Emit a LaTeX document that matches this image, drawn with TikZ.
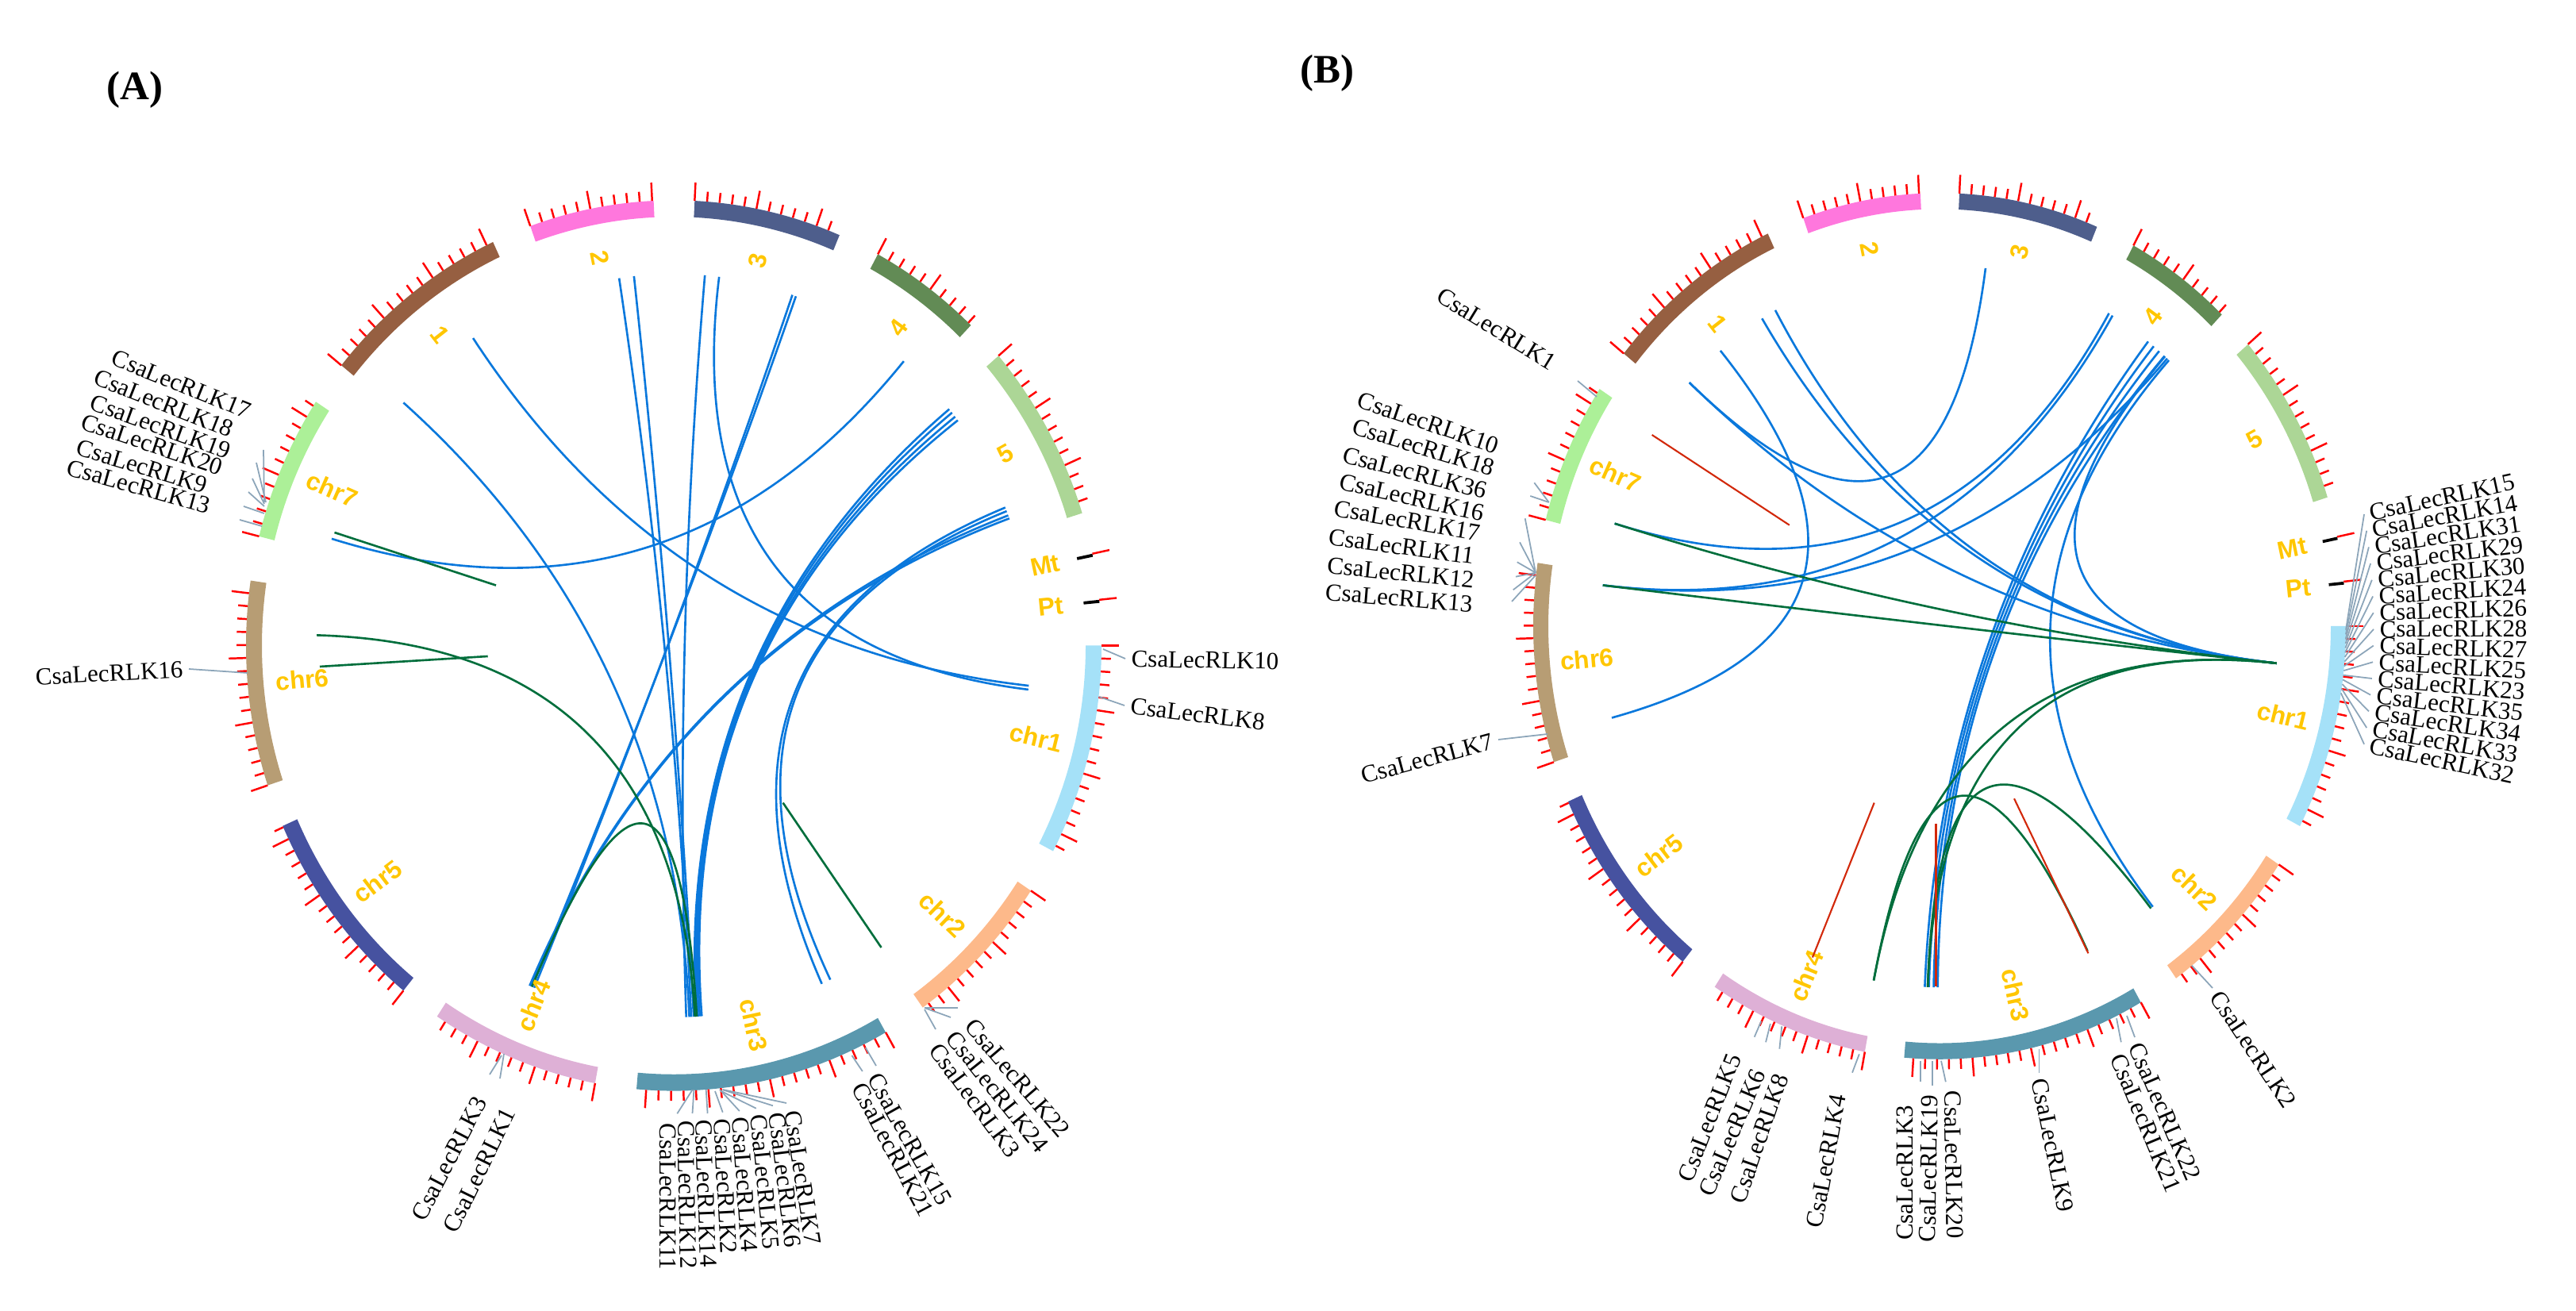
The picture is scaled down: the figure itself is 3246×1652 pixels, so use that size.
\documentclass[tikz,border=0pt]{standalone}
\usepackage{fontspec}
\setmainfont{Liberation Serif}
\newfontfamily\lsans{Liberation Sans}
\usetikzlibrary{calc}
\definecolor{c1}{RGB}{150,95,65}
\definecolor{c2}{RGB}{255,119,221}
\definecolor{c3}{RGB}{78,94,140}
\definecolor{c4}{RGB}{98,139,85}
\definecolor{c5}{RGB}{172,214,150}
\definecolor{k1}{RGB}{165,225,248}
\definecolor{k2}{RGB}{253,185,138}
\definecolor{k3}{RGB}{90,152,174}
\definecolor{k4}{RGB}{222,176,214}
\definecolor{k5}{RGB}{70,82,160}
\definecolor{k6}{RGB}{183,157,116}
\definecolor{k7}{RGB}{172,240,152}
\definecolor{gold}{RGB}{255,198,0}
\definecolor{lblue}{RGB}{10,120,220}
\definecolor{lgreen}{RGB}{0,110,60}
\definecolor{lred}{RGB}{210,40,10}
\definecolor{conn}{RGB}{140,165,185}
\tikzset{
 tickmark/.style={red, line width=0.7pt},
 blink/.style={lblue, line width=0.75pt},
 glink/.style={lgreen, line width=0.75pt},
 rlink/.style={lred, line width=0.6pt},
 chrlab/.style={text=gold, font=\lsans\bfseries\fontsize{9}{9}\selectfont, inner sep=0pt},
 gene/.style={font=\fontsize{8.8}{9}\selectfont, inner sep=2pt},
 gconn/.style={conn, line width=0.5pt},
 panel/.style={font=\bfseries\fontsize{14.5}{15}\selectfont}
}
\newcommand\chrom[3]{%
 \fill[#3] (#1:\rin) arc[start angle=#1, end angle=#2, radius=\rin] -- (#2:\rout) arc[start angle=#2, end angle=#1, radius=\rout] -- cycle;
 \pgfmathtruncatemacro\nt{(#1-(#2))/1.67}
 \foreach \i in {0,...,\nt}{
   \pgfmathsetmacro\ta{#1-1.67*\i}
   \pgfmathsetmacro\tl{ifthenelse(mod(\i,5)==0,22,12)}
   \draw[tickmark] (\ta:\rout) -- (\ta:{\rout+\tl});
 }}
\newcommand\qlink[3][blink]{\draw[#1] (#2:\rl) .. controls (#2:{\rl/3}) and (#3:{\rl/3}) .. (#3:\rl);}
\newcommand\allchroms{%
 \chrom{141}{115}{c1}\chrom{109.6}{92.7}{c2}\chrom{87.2}{67.2}{c3}\chrom{61.5}{46}{c4}
 \chrom{40.6}{17.3}{c5}\chrom{11.9}{11.5}{black}\chrom{5.9}{5.5}{black}
 \chrom{0}{-27.5}{k1}\chrom{-33.4}{-54.4}{k2}\chrom{-60.3}{-95}{k3}\chrom{-100.6}{-123.6}{k4}
 \chrom{-129.2}{-156.1}{k5}\chrom{-161.7}{-188.4}{k6}\chrom{165.8}{146.8}{k7}}
\newcommand\allchrlabels[1]{%
 \node[chrlab,rotate=-52] (#1l1) at (128:\rlab) {1};
 \node[chrlab,rotate=-78.8] (#1l2) at (101.2:\rlab) {2};
 \node[chrlab,rotate=77.2] (#1l3) at (77.2:\rlab) {3};
 \node[chrlab,rotate=53.7] (#1l4) at (53.7:\rlab) {4};
 \node[chrlab,rotate=29] (#1l5) at (29:\rlab) {5};
 \node[chrlab,rotate=11.7] (#1lMt) at (11.7:\rlab) {Mt};
 \node[chrlab,rotate=5.7] (#1lPt) at (5.7:\rlab) {Pt};
 \node[chrlab,rotate=-13.75] (#1c1) at (-13.75:\rlab-8) {chr1};
 \node[chrlab,rotate=-43.9] (#1c2) at (-43.9:\rlab-8) {chr2};
 \node[chrlab,rotate=-77.6] (#1c3) at (-77.6:\rlab-8) {chr3};
 \node[chrlab,rotate=67.9] (#1c4) at (-112.1:\rlab-8) {chr4};
 \node[chrlab,rotate=37.4] (#1c5) at (-142.6:\rlab-8) {chr5};
 \node[chrlab,rotate=5] (#1c6) at (-175:\rlab-8) {chr6};
 \node[chrlab,rotate=-23.7] (#1c7) at (156.3:\rlab-8) {chr7};}
\begin{document}
\begin{tikzpicture}[x=0.01cm,y=0.01cm]
\useasboundingbox (0,0) rectangle (3246,1652);
\node[panel] (labA) at (170,1539) {(A)};
\node[panel] (labB) at (1672,1560) {(B)};
% ================= Panel A =================
\begin{scope}[shift={(849,838.5)}, yscale=1.041]
\def\rin{519}\def\rout{539}\def\rl{450}\def\rlab{478}
\allchroms
\qlink{124.2}{-6.2}\qlink{139.2}{-87.5}\qlink{98.8}{-87.2}\qlink{96.4}{-86.8}
\qlink{85}{-88}\qlink{82.7}{-6.8}\qlink{70}{-113.4}\qlink{70.6}{-113.0}
\qlink{49.9}{163.3}\qlink{39.5}{-86.4}\qlink{38.8}{-86.1}\qlink{38}{-85.8}\qlink{37.3}{-85.5}
\qlink{21.8}{-65.5}\qlink{21.2}{-64}\qlink{20.5}{-113.8}\qlink{20}{-113.6}
\qlink[glink]{178.4}{-86.6}\qlink[glink]{-113.4}{-86.3}
\allchrlabels{A}
\end{scope}
\draw[glink] (421.5,981) -- (625,914.4);
\draw[glink] (403,812) -- (614.7,825);
\draw[glink] (1110.5,458) -- (986.6,640.4);
% gene labels A
\node[gene,anchor=east,rotate=-22] (A17) at (322,1130) {CsaLecRLK17};
\node[gene,anchor=east,rotate=-21.5] (A18) at (300,1107) {CsaLecRLK18};
\node[gene,anchor=east,rotate=-20] (A19) at (297,1080) {CsaLecRLK19};
\node[gene,anchor=east,rotate=-18.5] (A20) at (287,1060) {CsaLecRLK20};
\node[gene,anchor=east,rotate=-17] (A9) at (268,1037) {CsaLecRLK9};
\node[gene,anchor=east,rotate=-15.5] (A13) at (272,1012) {CsaLecRLK13};
\draw[gconn] (333,1019) -- (332,1085);
\draw[gconn] (335,1019) -- (323,1069);
\draw[gconn] (333,1017) -- (318,1049);
\draw[gconn] (333,1014) -- (313,1032);
\draw[gconn] (333,1005) -- (307,1014);
\draw[gconn] (330,989) -- (302,997);
\node[gene,anchor=east,rotate=3] (A16) at (238,809) {CsaLecRLK16};
\draw[gconn] (312,804) -- (A16.east);
\node[gene,anchor=west,rotate=-1] (A10) at (1418,822) {CsaLecRLK10};
\draw[gconn] (1390,834) -- (A10.west);
\node[gene,anchor=west,rotate=-6.8] (A8) at (1417,763) {CsaLecRLK8};
\draw[gconn] (1385,774) -- (A8.west);
\node[gene,rotate=62.6] (A3) at (566,192) {CsaLecRLK3};
\node[gene,rotate=64] (A1) at (604,177) {CsaLecRLK1};
\draw[gconn] (632,322) -- (617,298);
\draw[gconn] (635,324) -- (630,293);
\node[gene,anchor=west,rotate=-90] (A11) at (842,244) {CsaLecRLK11};
\node[gene,anchor=west,rotate=-89] (A12) at (864,247) {CsaLecRLK12};
\node[gene,anchor=west,rotate=-88] (A14) at (886,249) {CsaLecRLK14};
\node[gene,anchor=west,rotate=-87] (A2) at (909,250) {CsaLecRLK2};
\node[gene,anchor=west,rotate=-86] (A4) at (932,252) {CsaLecRLK4};
\node[gene,anchor=west,rotate=-84.5] (A5) at (955,255) {CsaLecRLK5};
\node[gene,anchor=west,rotate=-83] (A6) at (978,257) {CsaLecRLK6};
\node[gene,anchor=west,rotate=-81] (A7) at (997,260) {CsaLecRLK7};
\draw[gconn] (872.5,278.7) -- (853.3,248.7);
\draw[gconn] (874.4,279) -- (872.5,249);
\draw[gconn] (889.7,279) -- (891.6,249);
\draw[gconn] (901,277) -- (910.7,250.3);
\draw[gconn] (907,279) -- (931.8,252);
\draw[gconn] (908.8,277) -- (952.8,255.3);
\draw[gconn] (910.7,278.7) -- (973.9,258.7);
\draw[gconn] (910.7,279) -- (991,262);
\node[gene,anchor=west,rotate=-60.6] (A15) at (1097,304) {CsaLecRLK15};
\node[gene,anchor=west,rotate=-62] (A21) at (1078,292) {CsaLecRLK21};
\draw[gconn] (1090.6,332) -- (1104,309);
\draw[gconn] (1073.4,322) -- (1086.8,302);
\node[gene,anchor=west,rotate=-49.5] (A22) at (1217,370) {CsaLecRLK22};
\node[gene,anchor=west,rotate=-51.4] (A24) at (1194,355) {CsaLecRLK24};
\node[gene,anchor=west,rotate=-53.6] (A3b) at (1173,340) {CsaLecRLK3};
\draw[gconn] (1165,382) -- (1207,382);
\draw[gconn] (1165,382) -- (1198,370);
\draw[gconn] (1165,380) -- (1179,355);
% ================= Panel B =================
\begin{scope}[shift={(2444,863)}, yscale=1.066]
\def\rin{493}\def\rout{512}\def\rl{427}\def\rlab{454}
\allchroms
\qlink{137.6}{82.2}\qlink{130.3}{194.7}\qlink{121.6}{-5.9}\qlink{119}{-5.9}
\qlink{60}{163.5}\qlink{59.3}{173.5}\qlink{52}{-92.5}\qlink{50.8}{-91.8}\qlink{49.6}{-91}\qlink{48.4}{-90.3}
\qlink{48.3}{-5.9}\qlink{47.8}{173.5}\qlink{137.6}{-5.9}\qlink{47.4}{-51}
\qlink[glink]{163.5}{-5.9}\qlink[glink]{173.5}{-5.9}\qlink[glink]{-5.9}{-92}\qlink[glink]{-5.9}{-101.2}
\qlink[glink]{-92}{-51.4}\qlink[glink]{-101.2}{-64.1}
\allchrlabels{B}
\foreach \i in {0,...,14}{\pgfmathsetmacro\ga{-0.5-0.6*\i}\coordinate (gBR\i) at (\ga:\rout);}
\end{scope}
\draw[rlink] (2081.6,1104) -- (2254.8,990.3);
\draw[rlink] (2283.9,445.5) -- (2361.7,640.4);
\draw[rlink] (2538,645.7) -- (2631.4,450.7);
\draw[rlink] (2439.5,614) -- (2439.5,408.6);
% gene labels B
\node[gene,anchor=east,rotate=-31.5] (B1) at (1965,1189) {CsaLecRLK1};
\draw[gconn] (2012,1152) -- (1988,1172);
\node[gene,anchor=east,rotate=-18.7] (B10) at (1895,1087) {CsaLecRLK10};
\node[gene,anchor=east,rotate=-16.9] (B18) at (1890,1059) {CsaLecRLK18};
\node[gene,anchor=east,rotate=-14.6] (B36) at (1880,1031) {CsaLecRLK36};
\node[gene,anchor=east,rotate=-12.7] (B16) at (1877,1003) {CsaLecRLK16};
\node[gene,anchor=east,rotate=-9.7] (B17) at (1872,979) {CsaLecRLK17};
\node[gene,anchor=east,rotate=-7.6] (B11) at (1865,950) {CsaLecRLK11};
\node[gene,anchor=east,rotate=-5.8] (B12) at (1865,920) {CsaLecRLK12};
\node[gene,anchor=east,rotate=-4.7] (B13) at (1863,890) {CsaLecRLK13};
\draw[gconn] (1951.7,1019) -- (1933.3,1043.7);
\draw[gconn] (1951.7,1019) -- (1928.3,1027);
\draw[gconn] (1935,930.3) -- (1921.7,998.7);
\draw[gconn] (1935,930.3) -- (1915,968.7);
\draw[gconn] (1935,930.3) -- (1911.7,943.7);
\draw[gconn] (1935,930.3) -- (1910,925.3);
\draw[gconn] (1935,930.3) -- (1906.7,908.7);
\draw[gconn] (1935,927) -- (1905,894);
\node[gene,anchor=east,rotate=15] (B7) at (1888,720) {CsaLecRLK7};
\draw[gconn] (1950,727) -- (B7.east);
\foreach \nm [count=\i from 0] in {15,14,31,29,30,24,26,28,27,25,23,35,34,33,32}{
 \pgfmathsetmacro\yy{1652-(648+20.7*\i)}
 \pgfmathsetmacro\xx{2979+12*(1-((\i-7)/7)^2)}
 \pgfmathsetmacro\rr{12.3-1.74*\i}
 \node[gene,anchor=west,rotate=\rr] (BR\nm) at (\xx,\yy) {CsaLecRLK\nm};
 \draw[gconn] (gBR\i) -- (BR\nm.west);
}
\node[gene,anchor=east,rotate=68.7] (B5) at (2188,330) {CsaLecRLK5};
\node[gene,anchor=east,rotate=66.9] (B6) at (2219,310) {CsaLecRLK6};
\node[gene,anchor=east,rotate=71] (B8) at (2247,305) {CsaLecRLK8};
\node[gene,anchor=east,rotate=79.5] (B4) at (2318,280) {CsaLecRLK4};
\draw[gconn] (2219.3,365.3) -- (2210.7,345.3);
\draw[gconn] (2230.8,362) -- (2225,338.7);
\draw[gconn] (2245.2,358.7) -- (2242.3,330.3);
\draw[gconn] (2342.8,323.7) -- (2334,300.3);
\node[gene,anchor=east,rotate=90] (B3) at (2400,267) {CsaLecRLK3};
\node[gene,anchor=east,rotate=89] (B19) at (2432,280) {CsaLecRLK19};
\node[gene,anchor=west,rotate=-89] (B20) at (2460,285) {CsaLecRLK20};
\node[gene,anchor=west,rotate=-78.4] (B9) at (2568,300) {CsaLecRLK9};
\node[gene,anchor=west,rotate=-66.7] (B22) at (2688,344) {CsaLecRLK22};
\node[gene,anchor=west,rotate=-67.4] (B21) at (2665,330) {CsaLecRLK21};
\draw[gconn] (2420,315.3) -- (2420,288.7);
\draw[gconn] (2434.6,315.3) -- (2434.6,283.7);
\draw[gconn] (2446,315.3) -- (2451.8,288.7);
\draw[gconn] (2569.5,330.3) -- (2569.5,300.3);
\draw[gconn] (2667,368.7) -- (2672.8,338.7);
\draw[gconn] (2680,372) -- (2690,345);
\node[gene,anchor=west,rotate=-56.4] (B2) at (2788,407) {CsaLecRLK2};
\draw[gconn] (2761.8,435.3) -- (B2.west);
\end{tikzpicture}
\end{document}
